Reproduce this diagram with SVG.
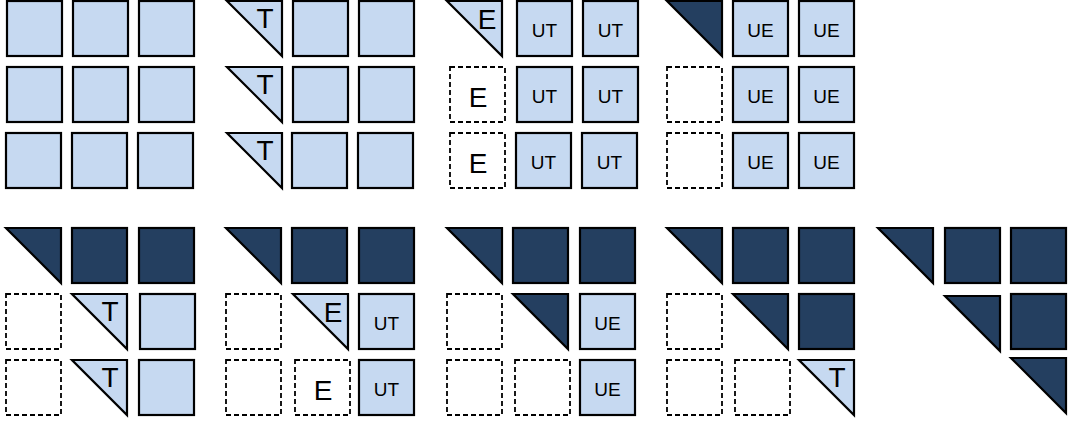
<svg xmlns="http://www.w3.org/2000/svg" width="1068" height="423" viewBox="0 0 1068 423">
<defs>
<style>
.lt{fill:#C6D9F1;stroke:#000;stroke-width:2.2}
.dk{fill:#243F60;stroke:#000;stroke-width:2.2}
.ds{fill:none;stroke:#000;stroke-width:1.8;stroke-dasharray:5 3}
.big{font-family:"Liberation Sans",Arial,sans-serif;font-size:28px;fill:#000}
.sm{font-family:"Liberation Sans",Arial,sans-serif;font-size:19px;fill:#000;text-anchor:middle}
.tl{text-anchor:middle}
</style>
<rect id="sqL" class="lt" width="55" height="55"/>
<rect id="sqD" class="dk" width="55" height="55"/>
<rect id="sqX" class="ds" width="55" height="55"/>
<path id="trL" class="lt" d="M0,0H55V55Z"/>
<path id="trD" class="dk" d="M0,0H55V55Z"/>
</defs>
<rect width="1068" height="423" fill="#fff"/>

<!-- Panel 1 -->
<g id="p1">
<g id="p1-r1c1" transform="translate(7,1)"><use href="#sqL"/></g>
<g id="p1-r1c2" transform="translate(73,1)"><use href="#sqL"/></g>
<g id="p1-r1c3" transform="translate(139,1)"><use href="#sqL"/></g>
<g id="p1-r2c1" transform="translate(7,67)"><use href="#sqL"/></g>
<g id="p1-r2c2" transform="translate(73,67)"><use href="#sqL"/></g>
<g id="p1-r2c3" transform="translate(139,67)"><use href="#sqL"/></g>
<g id="p1-r3c1" transform="translate(6,133)"><use href="#sqL"/></g>
<g id="p1-r3c2" transform="translate(72,133)"><use href="#sqL"/></g>
<g id="p1-r3c3" transform="translate(138,133)"><use href="#sqL"/></g>
</g>

<!-- Panel 2 -->
<g id="p2">
<g id="p2-r1c1" transform="translate(227,1)"><use href="#trL"/><text class="big tl" x="38" y="27">T</text></g>
<g id="p2-r1c2" transform="translate(293,1)"><use href="#sqL"/></g>
<g id="p2-r1c3" transform="translate(359,1)"><use href="#sqL"/></g>
<g id="p2-r2c1" transform="translate(227,67)"><use href="#trL"/><text class="big tl" x="38" y="27">T</text></g>
<g id="p2-r2c2" transform="translate(293,67)"><use href="#sqL"/></g>
<g id="p2-r2c3" transform="translate(359,67)"><use href="#sqL"/></g>
<g id="p2-r3c1" transform="translate(227,133)"><use href="#trL"/><text class="big tl" x="38" y="27">T</text></g>
<g id="p2-r3c2" transform="translate(292,133)"><use href="#sqL"/></g>
<g id="p2-r3c3" transform="translate(358,133)"><use href="#sqL"/></g>
</g>

<!-- Panel 3 -->
<g id="p3">
<g id="p3-r1c1" transform="translate(447,1)"><use href="#trL"/><text class="big tl" x="40" y="28">E</text></g>
<g id="p3-r1c2" transform="translate(517,1)"><use href="#sqL"/><text class="sm" x="27.5" y="36">UT</text></g>
<g id="p3-r1c3" transform="translate(583,1)"><use href="#sqL"/><text class="sm" x="27.5" y="36">UT</text></g>
<g id="p3-r2c1" transform="translate(450,67)"><use href="#sqX"/><text class="big tl" x="28" y="40">E</text></g>
<g id="p3-r2c2" transform="translate(517,67)"><use href="#sqL"/><text class="sm" x="27.5" y="36">UT</text></g>
<g id="p3-r2c3" transform="translate(583,67)"><use href="#sqL"/><text class="sm" x="27.5" y="36">UT</text></g>
<g id="p3-r3c1" transform="translate(450,133)"><use href="#sqX"/><text class="big tl" x="28" y="40">E</text></g>
<g id="p3-r3c2" transform="translate(516,133)"><use href="#sqL"/><text class="sm" x="27.5" y="36">UT</text></g>
<g id="p3-r3c3" transform="translate(582,133)"><use href="#sqL"/><text class="sm" x="27.5" y="36">UT</text></g>
</g>

<!-- Panel 4 -->
<g id="p4">
<g id="p4-r1c1" transform="translate(667,1)"><use href="#trD"/></g>
<g id="p4-r1c2" transform="translate(733,1)"><use href="#sqL"/><text class="sm" x="27.5" y="36">UE</text></g>
<g id="p4-r1c3" transform="translate(799,1)"><use href="#sqL"/><text class="sm" x="27.5" y="36">UE</text></g>
<g id="p4-r2c1" transform="translate(667,67)"><use href="#sqX"/></g>
<g id="p4-r2c2" transform="translate(733,67)"><use href="#sqL"/><text class="sm" x="27.5" y="36">UE</text></g>
<g id="p4-r2c3" transform="translate(799,67)"><use href="#sqL"/><text class="sm" x="27.5" y="36">UE</text></g>
<g id="p4-r3c1" transform="translate(667,133)"><use href="#sqX"/></g>
<g id="p4-r3c2" transform="translate(733,133)"><use href="#sqL"/><text class="sm" x="27.5" y="36">UE</text></g>
<g id="p4-r3c3" transform="translate(799,133)"><use href="#sqL"/><text class="sm" x="27.5" y="36">UE</text></g>
</g>

<!-- Panel 5 -->
<g id="p5">
<g id="p5-r1c1" transform="translate(6,228)"><use href="#trD"/></g>
<g id="p5-r1c2" transform="translate(72,228)"><use href="#sqD"/></g>
<g id="p5-r1c3" transform="translate(139,228)"><use href="#sqD"/></g>
<g id="p5-r2c1" transform="translate(6,294)"><use href="#sqX"/></g>
<g id="p5-r2c2" transform="translate(72,294)"><use href="#trL"/><text class="big tl" x="38" y="27">T</text></g>
<g id="p5-r2c3" transform="translate(140,294)"><use href="#sqL"/></g>
<g id="p5-r3c1" transform="translate(6,360)"><use href="#sqX"/></g>
<g id="p5-r3c2" transform="translate(72,360)"><use href="#trL"/><text class="big tl" x="38" y="27">T</text></g>
<g id="p5-r3c3" transform="translate(139,360)"><use href="#sqL"/></g>
</g>

<!-- Panel 6 -->
<g id="p6">
<g id="p6-r1c1" transform="translate(226,228)"><use href="#trD"/></g>
<g id="p6-r1c2" transform="translate(292,228)"><use href="#sqD"/></g>
<g id="p6-r1c3" transform="translate(359,228)"><use href="#sqD"/></g>
<g id="p6-r2c1" transform="translate(226,294)"><use href="#sqX"/></g>
<g id="p6-r2c2" transform="translate(293,294)"><use href="#trL"/><text class="big tl" x="40" y="28">E</text></g>
<g id="p6-r2c3" transform="translate(359,294)"><use href="#sqL"/><text class="sm" x="27.5" y="36">UT</text></g>
<g id="p6-r3c1" transform="translate(226,360)"><use href="#sqX"/></g>
<g id="p6-r3c2" transform="translate(295,360)"><use href="#sqX"/><text class="big tl" x="28" y="40">E</text></g>
<g id="p6-r3c3" transform="translate(359,360)"><use href="#sqL"/><text class="sm" x="27.5" y="36">UT</text></g>
</g>

<!-- Panel 7 -->
<g id="p7">
<g id="p7-r1c1" transform="translate(447,228)"><use href="#trD"/></g>
<g id="p7-r1c2" transform="translate(513,228)"><use href="#sqD"/></g>
<g id="p7-r1c3" transform="translate(580,228)"><use href="#sqD"/></g>
<g id="p7-r2c1" transform="translate(447,294)"><use href="#sqX"/></g>
<g id="p7-r2c2" transform="translate(513,294)"><use href="#trD"/></g>
<g id="p7-r2c3" transform="translate(580,294)"><use href="#sqL"/><text class="sm" x="27.5" y="36">UE</text></g>
<g id="p7-r3c1" transform="translate(447,360)"><use href="#sqX"/></g>
<g id="p7-r3c2" transform="translate(515,360)"><use href="#sqX"/></g>
<g id="p7-r3c3" transform="translate(580,360)"><use href="#sqL"/><text class="sm" x="27.5" y="36">UE</text></g>
</g>

<!-- Panel 8 -->
<g id="p8">
<g id="p8-r1c1" transform="translate(667,228)"><use href="#trD"/></g>
<g id="p8-r1c2" transform="translate(733,228)"><use href="#sqD"/></g>
<g id="p8-r1c3" transform="translate(799,228)"><use href="#sqD"/></g>
<g id="p8-r2c1" transform="translate(667,294)"><use href="#sqX"/></g>
<g id="p8-r2c2" transform="translate(733,294)"><use href="#trD"/></g>
<g id="p8-r2c3" transform="translate(799,294)"><use href="#sqD"/></g>
<g id="p8-r3c1" transform="translate(667,360)"><use href="#sqX"/></g>
<g id="p8-r3c2" transform="translate(735,360)"><use href="#sqX"/></g>
<g id="p8-r3c3" transform="translate(799,360)"><use href="#trL"/><text class="big tl" x="38" y="27">T</text></g>
</g>

<!-- Panel 9 -->
<g id="p9">
<g id="p9-r1c1" transform="translate(878,228)"><use href="#trD"/></g>
<g id="p9-r1c2" transform="translate(945,228)"><use href="#sqD"/></g>
<g id="p9-r1c3" transform="translate(1011,228)"><use href="#sqD"/></g>
<g id="p9-r2c2" transform="translate(945,296)"><use href="#trD"/></g>
<g id="p9-r2c3" transform="translate(1011,294)"><use href="#sqD"/></g>
<g id="p9-r3c3" transform="translate(1011,358)"><use href="#trD"/></g>
</g>
</svg>
